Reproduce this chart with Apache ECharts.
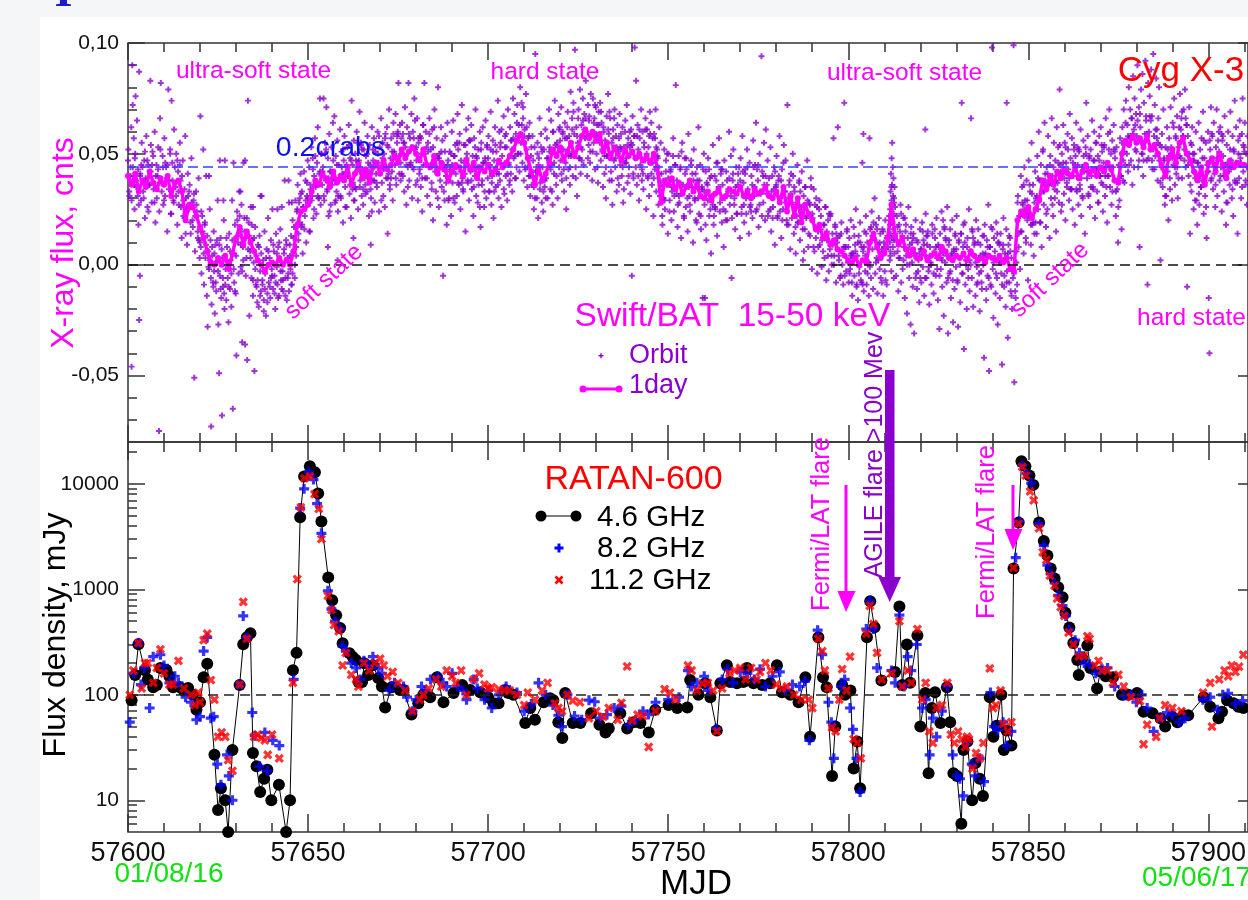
<!DOCTYPE html>
<html><head><meta charset="utf-8">
<script src="https://cdn.jsdelivr.net/npm/echarts@6/dist/echarts.min.js"></script>
<style>
html,body{margin:0;padding:0;background:#f5f6f8;overflow:hidden;}
#panel{position:absolute;left:40px;top:17px;width:1208px;height:883px;background:#fff;}
#chart{position:absolute;left:0;top:0;width:1248px;height:900px;}
</style></head><body>
<div id="panel"></div><div id="chart"></div>
<script>
// ---------- DATA ----------
const MJD0 = 57600;
const xMajor = [57600,57650,57700,57750,57800,57850,57900];
const xMinor = [57610,57620,57630,57640,57660,57670,57680,57690,57710,57720,57730,57740,57760,57770,57780,57790,57810,57820,57830,57840,57860,57870,57880,57890,57910];
const yTopMajor = [-0.05,0,0.05,0.10];
const yTopMinor = [-0.07,-0.06,-0.04,-0.03,-0.02,-0.01,0.01,0.02,0.03,0.04,0.06,0.07,0.08,0.09];
const yBotMajor = [10,100,1000,10000];
const yBotMinor = [6,7,8,9,20,30,40,50,60,70,80,90,200,300,400,500,600,700,800,900,2000,3000,4000,5000,6000,7000,8000,9000,20000];
const crabLevel = 0.0443;   // 0.2 crabs, cnts
const radioRef = 100;       // mJy

// Swift/BAT 1-day average, milli-cnts, one value per day from MJD 57600
const dayFlux = [
40,36,41,33,38,35,42,37,34,39, 36,40,31,37,38,33,20,27,26,22,
17,12,6,1,0,3,0,4,-2,5, 12,17,9,15,10,6,2,0,-3,0,
1,0,3,0,2,0,6,18,24,25, 27,33,38,36,41,39,35,42,37,40,
38,44,36,41,45,39,43,37,44,46, 41,47,43,45,49,46,52,48,51,53,
50,47,52,45,44,49,41,46,43,38, 42,45,44,40,47,43,46,39,44,42,
45,41,43,47,44,46,49,52,56,59, 55,48,42,36,44,38,41,46,52,49,
53,47,51,55,49,53,58,61,57,60, 56,59,51,55,48,53,50,47,52,49,
51,48,50,47,49,46,50,44,28,38, 36,39,34,37,32,35,38,33,36,31,
30,33,29,32,34,30,31,34,33,32, 35,31,33,30,34,32,33,35,31,30,
33,28,35,24,31,22,30,19,27,23, 20,16,18,12,14,9,11,7,6,4,
2,1,3,0,2,1,10,14,8,3, 5,12,27,13,9,12,7,4,7,3,
3,6,2,4,5,3,8,6,3,2, 4,3,5,2,6,4,2,3,1,4,
3,2,4,1,3,-2,-3,20,24,22, 26,21,25,29,38,34,40,36,42,39,
43,41,40,44,39,42,45,41,43,40, 44,42,46,43,38,37,50,56,54,58,
55,57,53,58,52,54,50,45,40,48, 52,46,55,57,50,47,42,38,44,36,
46,48,42,50,45,39,47,44,46,45, 45];

// Swift/BAT orbit points, wide scatter: pairs (day offset from MJD 57600, milli-cnts)
const orbitPairs = [
0.1,52,0.4,31,0.7,44,0.9,62,1.0,-46,1.2,90,1.3,72,1.5,38,1.6,57,1.8,25,1.9,48,
2.1,76,2.3,35,2.5,65,2.8,43,2.9,18,3.1,87,3.1,-25,3.3,-5,3.4,41,3.6,29,3.8,55,
4.2,33,4.5,47,4.7,21,4.9,39,5.1,58,5.4,26,5.6,45,5.9,36,6.2,83,6.3,42,6.6,28,6.8,51,
7.1,34,7.4,60,7.6,19,7.9,45,8.2,40,8.4,53,8.6,-75,8.7,24,8.9,66,9.1,82,9.3,37,9.6,49,9.8,27,
10.1,57,10.3,31,10.6,44,10.9,15,11.2,79,11.4,38,11.7,52,11.9,23,12.1,74,12.3,46,12.6,29,12.8,61,
13.2,35,13.4,50,13.7,18,13.9,42,14.1,27,14.4,55,14.6,38,14.9,12,15.2,47,15.4,22,15.7,34,15.9,58,
16.1,30,16.4,9,16.6,41,16.9,25,17.1,36,17.4,14,17.6,48,17.9,20,18.2,29,18.4,-51,18.6,6,18.9,33,
19.1,24,19.4,12,19.6,39,19.9,3,
20.1,67,20.2,8,20.4,-4,20.6,22,20.8,14,20.9,52,21.1,-9,21.3,18,21.5,3,21.7,40,21.9,-14,
22.1,-28,22.3,6,22.5,-2,22.5,40,22.7,25,22.9,11,23.1,-73,23.2,-18,23.4,4,23.6,-8,23.8,15,23.9,-3,
24.1,-22,24.3,9,24.5,-12,24.7,1,24.9,29,25.1,-27,25.3,-49,25.5,-5,25.5,47,25.7,12,25.9,-15,
26.1,-68,26.2,3,26.4,-10,26.5,29,26.6,20,26.8,-20,26.9,47,27.1,-2,27.3,-16,27.5,8,27.7,-6,27.9,-26,
28.1,14,28.3,-11,28.5,2,28.7,-19,28.9,29,29.1,-65,29.3,5,29.3,46,29.5,-8,29.7,18,29.9,-13,
30.1,-41,30.3,24,30.5,10,30.7,-4,30.9,33,31.1,16,31.2,33,31.3,-1,31.5,27,31.7,-35,31.9,8,
32.1,46,32.3,21,32.5,-36,32.5,47,32.7,12,32.9,3,33.1,-43,33.3,74,33.5,19,33.7,-23,33.9,6,
34.1,26,34.3,-6,34.5,11,34.7,-14,34.7,26,34.9,1,35.1,-48,35.3,17,35.5,-9,35.7,4,35.9,-17,
36.1,9,36.3,-19,36.5,13,36.7,-3,36.8,31,36.9,-12,37.1,31,37.3,-7,37.5,2,37.7,-21,37.9,15,
38.1,-4,38.3,-23,38.5,7,38.7,-13,38.9,21,39.1,-8,39.3,3,39.5,-15,39.7,11,39.9,-2,
40.1,25,40.3,-11,40.5,6,40.7,-5,40.9,-20,41.1,14,41.3,-1,41.5,-9,41.5,25,41.7,8,41.9,-14,
42.1,2,42.3,16,42.5,-7,42.7,26,42.9,-3,43.1,-12,43.3,5,43.5,38,43.7,-6,43.9,11,
44.1,-16,44.3,3,44.5,-4,44.6,38,44.7,28,44.9,9,45.1,-2,45.3,13,45.5,-9,45.5,28,45.7,20,45.9,6,
46.1,17,46.3,-6,46.5,29,46.7,4,46.9,24,47.1,36,47.3,11,47.5,28,47.7,19,47.9,41,
48.1,17,48.3,33,48.5,5,48.7,26,48.9,42,49.1,22,49.3,38,49.5,10,49.7,31,49.9,47,
50.1,28,50.3,44,50.5,15,50.7,36,50.9,53,51.1,31,51.3,48,51.5,21,51.7,40,51.9,57,
52.1,35,52.3,23,52.5,46,52.7,62,52.9,30,53.1,41,53.3,75,53.5,27,53.7,50,53.9,36,
54.1,44,54.3,75,54.5,29,54.7,55,54.9,38,55.1,71,55.3,33,55.5,48,55.5,8,55.7,22,55.9,59,
56.1,42,56.3,27,56.5,53,56.7,36,56.9,64,57.1,39,57.3,67,57.5,28,57.7,49,57.9,33,
58.1,56,58.2,2,58.3,24,58.5,45,58.7,38,58.9,61,59.1,30,59.3,51,59.5,41,59.7,19,59.9,47,
60.1,58,60.3,35,60.5,44,60.7,26,60.9,53,61.1,40,61.3,63,61.5,32,61.7,48,61.9,21,
62.1,74,62.3,45,62.5,37,62.6,12,62.7,56,62.9,29,63.1,50,63.3,34,63.5,60,63.7,42,63.9,25,
64.1,47,64.3,69,64.5,38,64.7,55,64.9,31,65.1,43,65.3,27,65.5,52,65.7,64,65.9,36,
66.1,49,66.3,33,66.5,58,66.7,40,66.9,22,67.1,54,67.3,45,67.4,9,67.5,30,67.7,62,67.9,38,
68.1,47,68.3,57,68.5,28,68.7,51,68.9,41,69.1,35,69.3,60,69.5,46,69.7,24,69.9,53,
70.1,43,70.3,66,70.5,37,70.7,55,70.9,31,71.1,50,71.3,26,71.5,59,71.7,44,71.9,62,
72.1,39,72.1,14,72.3,53,72.5,70,72.7,34,72.9,48,73.1,57,73.3,42,73.5,29,73.7,64,73.9,51,
74.1,45,74.3,68,74.5,36,74.7,55,74.9,60,75.1,82,75.3,49,75.5,63,75.7,38,75.9,57,
76.1,64,76.3,40,76.5,55,76.7,33,76.9,71,77.1,49,77.3,27,77.5,62,77.7,44,77.9,82,
78.1,38,78.3,57,78.5,46,78.7,68,78.9,30,79.1,60,79.3,43,79.5,75,79.7,52,79.9,36,
80.1,47,80.3,66,80.5,29,80.7,55,80.9,41,81.1,58,81.3,35,81.5,50,81.7,24,81.9,63,
82.1,45,82.3,82,82.5,39,82.7,60,82.9,53,83.1,31,83.3,55,83.5,44,83.7,66,83.9,27,
84.1,52,84.3,37,84.5,61,84.7,20,84.9,46,85.1,70,85.3,42,85.5,33,85.7,57,85.9,48,
86.1,80,86.3,26,86.5,50,86.7,38,86.9,62,87.1,35,87.3,56,87.5,-5,87.7,45,87.9,29,
88.1,58,88.3,40,88.5,18,88.7,64,88.9,47,89.1,30,89.3,51,89.5,43,89.7,22,89.9,60,
90.1,37,90.3,65,90.5,49,90.7,28,90.9,54,91.1,44,91.3,31,91.5,68,91.7,52,91.9,36,
92.1,59,92.3,25,92.5,47,92.7,72,92.9,39,93.1,33,93.3,54,93.5,41,93.7,15,93.9,61,
94.1,50,94.3,38,94.5,66,94.7,29,94.9,56,95.1,42,95.3,63,95.5,34,95.7,49,95.9,22,
96.1,57,96.3,40,96.5,70,96.7,31,96.9,48,97.1,28,97.3,52,97.5,44,97.7,60,97.9,17,
98.1,55,98.3,36,98.5,62,98.7,46,98.9,26,99.1,48,99.3,65,99.5,30,99.7,53,99.9,39,
100.1,58,100.3,33,100.5,45,100.7,69,100.9,27,101.1,40,101.3,56,101.5,21,101.7,47,101.9,62,
102.1,35,102.3,51,102.5,43,102.7,74,102.9,30,103.1,60,103.3,38,103.5,55,103.7,26,103.9,49,
104.1,44,104.3,67,104.5,32,104.7,58,104.9,40,105.1,53,105.3,29,105.5,70,105.7,45,105.9,36,
106.1,62,106.3,41,106.5,56,106.7,33,106.9,75,107.1,48,107.3,68,107.5,39,107.7,59,107.9,44,
108.1,72,108.3,50,108.5,63,108.7,42,108.9,80,109.1,55,109.3,73,109.5,46,109.7,66,109.9,38,
110.1,61,110.3,44,110.5,77,110.7,52,110.9,35,111.1,57,111.3,40,111.5,64,111.7,31,111.9,49,
112.1,36,112.3,58,112.5,47,112.7,25,112.9,53,113.1,95,113.3,42,113.5,30,113.7,55,113.9,21,
114.1,48,114.3,66,114.5,37,114.7,59,114.9,28,115.1,44,115.3,24,115.5,52,115.7,35,115.9,61,
116.1,39,116.3,57,116.5,30,116.7,48,116.9,70,117.1,53,117.3,34,117.5,65,117.7,45,117.9,27,
118.1,60,118.3,41,118.5,74,118.7,50,118.9,36,119.1,55,119.3,30,119.5,68,119.7,44,119.9,62,
120.1,47,120.3,71,120.5,38,120.7,59,120.9,52,121.1,33,121.3,64,121.5,46,121.7,25,121.9,57,
122.1,69,122.3,43,122.5,58,122.7,36,122.9,78,123.1,50,123.3,66,123.5,40,123.7,73,123.9,59,
124.1,97,124.3,44,124.5,62,124.7,31,124.9,55,125.1,70,125.3,48,125.5,79,125.7,41,125.9,63,
126.1,52,126.3,75,126.5,45,126.7,68,126.9,57,127.1,83,127.3,60,127.5,40,127.7,72,127.9,54,
128.1,67,128.3,46,128.5,77,128.7,58,128.9,38,129.1,75,129.3,55,129.5,66,129.7,43,129.9,71,
130.1,50,130.3,63,130.5,37,130.7,69,130.9,58,131.1,73,131.3,47,131.5,64,131.7,52,131.9,35,
132.1,60,132.3,41,132.5,56,132.7,30,132.9,67,133.1,49,133.3,77,133.5,59,133.7,38,133.9,66,
134.1,42,134.3,55,134.5,27,134.7,61,134.9,47,135.1,70,135.3,44,135.5,58,135.7,33,135.9,63,
136.1,51,136.3,36,136.5,68,136.7,45,136.9,59,137.1,40,137.3,62,137.5,28,137.7,53,137.9,46,
138.1,65,138.3,48,138.5,72,138.7,37,138.9,57,139.1,44,139.3,60,139.5,32,139.7,55,139.9,-5,
140.1,67,140.3,41,140.5,58,140.7,98,140.9,48,141.1,83,141.3,36,141.5,63,141.7,52,141.9,29,
142.1,57,142.3,45,142.5,70,142.7,38,142.9,60,143.1,34,143.3,55,143.5,47,143.7,66,143.9,25,
144.1,61,144.3,40,144.5,53,144.7,31,144.9,69,145.1,46,145.3,64,145.5,36,145.7,57,145.9,22,
146.1,59,146.3,43,146.5,70,146.7,33,146.9,52,147.1,48,147.3,27,147.5,62,147.7,38,147.9,55,
148.1,41,148.4,18,148.6,30,148.9,52,149.1,25,149.4,47,149.6,36,149.9,14,
150.1,50,150.4,29,150.6,42,150.9,20,151.1,33,151.4,57,151.6,24,151.9,45,
152.1,81,152.4,38,152.6,17,152.9,49,153.1,28,153.4,44,153.6,12,153.9,55,
154.1,36,154.4,21,154.6,48,154.9,26,155.1,43,155.4,15,155.6,59,155.9,31,
156.1,24,156.4,47,156.6,35,156.9,10,157.1,52,157.4,29,157.6,41,157.9,19,
158.1,38,158.4,62,158.6,23,158.9,45,159.1,16,159.4,34,159.6,-15,159.9,50,
160.1,27,160.2,-15,160.4,42,160.6,11,160.9,36,161.1,48,161.4,22,161.6,39,161.9,5,
162.1,31,162.4,54,162.6,18,162.9,40,163.1,25,163.4,46,163.6,13,163.9,33,
164.1,57,164.4,28,164.6,41,164.9,19,165.1,36,165.4,8,165.6,47,165.9,24,
166.1,42,166.4,20,166.6,33,166.9,60,167.1,27,167.4,49,167.6,-6,167.9,38,
168.1,52,168.4,30,168.6,16,168.9,44,169.1,23,169.4,41,169.6,35,169.9,12,
170.1,48,170.4,26,170.6,58,170.9,37,171.1,19,171.4,43,171.6,30,171.9,52,
172.1,34,172.4,14,172.6,46,172.9,27,173.1,40,173.4,21,173.6,56,173.9,31,
174.1,45,174.4,64,174.6,25,174.9,38,175.1,17,175.4,50,175.6,33,175.9,94,
176.1,42,176.4,28,176.6,55,176.9,20,177.1,61,177.4,36,177.6,47,177.9,24,
178.1,31,178.4,53,178.6,15,178.9,40,179.1,26,179.4,44,179.6,9,179.9,35,
180.1,49,180.4,22,180.6,38,180.9,58,181.1,30,181.4,12,181.6,43,181.9,25,
182.1,54,182.4,33,182.6,47,182.9,20,183.1,72,183.4,18,183.6,36,183.9,7,
184.1,41,184.4,27,184.6,50,184.9,14,185.1,33,185.4,5,185.6,28,185.9,45,
186.1,19,186.4,38,186.6,11,186.9,26,187.1,42,187.4,2,187.6,31,187.9,16,
188.1,35,188.4,22,188.6,47,188.9,8,189.1,28,189.4,13,189.6,39,189.9,-2,
190.1,21,190.4,34,190.6,6,190.9,17,191.1,30,191.4,-4,191.6,15,191.9,25,
192.1,9,192.4,22,192.6,-1,192.9,12,193.1,18,193.4,3,193.6,26,193.9,-7,
194.1,11,194.4,20,194.6,-3,194.9,7,195.1,23,195.4,0,195.6,14,195.9,57,
196.1,4,196.4,17,196.6,-8,196.9,10,197.1,62,197.4,2,197.6,13,197.9,-5,
198.1,19,198.4,6,198.6,-9,198.9,73,199.1,8,199.4,-3,199.6,15,199.9,1,
200.1,-8,200.3,12,200.5,-2,200.7,20,200.9,5,201.1,-14,201.3,3,201.5,17,201.7,-5,201.9,9,
202.1,25,202.3,-10,202.5,4,202.7,-16,202.9,13,203.1,-1,203.3,19,203.5,-7,203.7,8,203.9,46,
204.1,6,204.2,59,204.3,-12,204.5,15,204.7,-3,204.9,22,205.1,-9,205.3,10,205.5,1,205.7,-14,205.9,57,
206.1,16,206.3,-6,206.5,24,206.7,7,206.9,-11,207.1,12,207.3,30,207.5,-4,207.7,18,207.9,3,
208.1,-13,208.3,9,208.5,21,208.7,-2,208.9,14,209.1,5,209.3,-8,209.5,16,209.7,-14,209.9,10,
210.1,-3,210.3,20,210.5,7,210.7,-9,210.9,13,
211.5,2,211.55,10,211.6,18,211.65,25,211.7,6,211.75,33,211.8,14,211.85,41,211.9,22,211.95,-3,
212.0,29,212.05,48,212.1,12,212.15,36,212.2,55,212.25,19,212.3,27,212.35,44,212.4,8,212.45,31,
212.5,16,212.55,39,212.6,23,212.65,-6,212.7,11,212.75,28,212.8,5,212.85,35,
213.1,14,213.3,-5,213.5,22,213.7,6,213.9,-12,214.1,18,214.3,3,214.5,27,214.7,-8,214.9,11,
215.1,-2,215.3,21,215.5,8,215.7,-15,215.9,15,216.1,4,216.3,-22,216.5,12,216.7,26,216.9,-6,
217.1,9,217.3,-27,217.5,17,217.7,1,217.9,-10,218.1,14,218.3,-31,218.5,5,218.7,20,218.9,-4,
219.1,-11,219.3,10,219.5,2,219.7,-17,219.9,16,220.1,7,220.3,-8,220.5,19,220.7,-1,220.9,11,
221.1,-14,221.3,4,221.4,61,221.5,23,221.7,-6,221.9,9,222.1,15,222.3,-3,222.5,-18,222.7,8,222.9,1,
223.1,-9,223.3,18,223.7,-13,223.9,6,224.1,12,224.3,-5,224.5,21,224.7,3,224.9,-16,
225.1,8,225.3,-29,225.5,14,225.7,-2,225.9,24,226.1,-10,226.3,5,226.5,-23,226.7,17,226.9,1,
227.1,11,227.3,-8,227.5,26,227.7,-31,227.9,9,228.1,-4,228.3,16,228.5,-15,228.7,4,228.9,20,
229.1,-26,229.3,7,229.5,-11,229.7,13,229.9,-1,230.1,22,230.3,-7,230.5,-28,230.7,10,230.9,3,
231.1,-17,231.3,14,231.5,73,231.7,-4,231.9,8,232.1,-38,232.3,19,232.5,-9,232.7,2,232.9,-20,
233.1,12,233.3,-2,233.5,25,233.7,-12,233.9,6,234.1,66,234.3,-6,234.5,15,234.7,-19,234.9,4,
235.1,10,235.3,-14,235.5,20,235.7,-1,235.9,-8,236.1,16,236.3,3,236.5,-21,236.7,9,236.9,-3,
237.1,-11,237.3,13,237.5,0,237.7,-42,237.9,18,238.1,5,238.3,-16,238.5,11,238.7,-5,238.9,27,
239.1,-48,239.3,8,239.5,-9,239.7,17,239.9,98,240.1,-2,240.3,-24,240.5,12,240.7,3,240.9,-13,
241.1,19,241.3,-6,241.5,-27,241.7,10,241.9,1,242.1,-15,242.3,14,242.5,-4,242.7,-45,242.9,7,
243.1,21,243.3,-10,243.5,5,243.7,-19,243.9,16,244.0,73,244.1,-3,244.3,-33,244.5,9,244.7,-8,244.9,12,
245.1,-12,245.3,3,245.5,-20,245.7,-6,245.9,99,246.1,-53,246.3,6,246.5,-15,246.7,1,246.9,-9,
247.1,31,247.3,8,247.5,22,247.7,-2,247.9,40,248.1,15,248.3,35,248.5,27,248.7,5,248.9,44,
249.1,29,249.3,12,249.5,38,249.7,20,249.9,-7,250.1,47,250.3,23,250.5,33,250.7,9,250.9,55,
251.1,18,251.3,36,251.5,4,251.7,28,251.9,42,252.1,30,252.3,14,252.5,49,252.7,25,252.9,60,
253.1,38,253.3,19,253.5,45,253.7,8,253.9,33,254.1,52,254.3,27,254.5,64,254.7,41,254.9,17,
255.1,44,255.3,25,255.5,58,255.7,36,255.9,12,256.1,49,256.3,30,256.5,66,256.7,40,256.9,22,
257.1,55,257.3,34,257.5,47,257.7,15,257.9,62,258.1,37,258.3,53,258.5,28,258.7,79,258.9,45,
259.1,24,259.3,50,259.5,41,259.7,63,259.9,32,260.1,55,260.3,20,260.5,46,260.7,37,260.9,59,
261.1,43,261.3,29,261.5,68,261.7,48,261.9,34,262.1,57,262.3,25,262.5,40,262.7,52,262.9,18,
263.1,49,263.3,64,263.5,33,263.7,45,263.9,27,264.1,51,264.3,36,264.5,61,264.7,22,264.9,44,
265.1,30,265.3,56,265.5,42,265.7,14,265.9,53,266.1,73,266.3,39,266.5,58,266.7,31,266.9,48,
267.1,26,267.3,52,267.5,40,267.7,65,267.9,35,268.1,47,268.3,60,268.5,21,268.7,43,268.9,55,
269.1,33,269.3,49,269.5,28,269.7,58,269.9,40,270.1,62,270.3,37,270.5,51,270.7,24,270.9,46,
271.1,54,271.3,31,271.5,66,271.7,44,271.9,19,272.1,59,272.3,40,272.5,70,272.7,35,272.9,50,
273.1,27,273.3,56,273.5,44,273.7,63,273.9,38,274.1,48,274.3,22,274.5,53,274.7,34,274.9,10,
275.1,45,275.3,29,275.5,57,275.7,40,275.9,16,276.1,62,276.3,38,276.5,70,276.7,51,276.9,45,
277.1,74,277.3,55,277.5,63,277.7,42,277.9,80,278.1,57,278.3,70,278.5,47,278.7,66,278.9,36,
279.1,85,279.3,61,279.5,75,279.7,52,279.9,68,280.1,58,280.3,90,280.5,44,280.7,71,280.9,8,
281.1,62,281.3,79,281.5,50,281.7,86,281.9,40,282.1,73,282.3,56,282.5,92,282.7,65,282.9,47,
283.1,-9,283.3,82,283.5,60,283.7,76,283.9,52,284.1,88,284.3,67,284.5,43,284.7,95,284.9,58,
285.1,72,285.3,49,285.5,84,285.7,61,285.9,38,286.1,66,286.3,80,286.5,54,286.7,2,286.9,44,
287.1,59,287.3,35,287.5,70,287.7,48,287.9,27,288.1,53,288.3,31,288.5,62,288.7,42,288.9,20,
289.1,57,289.3,39,289.5,71,289.7,50,289.9,29,290.1,64,290.3,45,290.5,75,290.7,36,290.9,58,
291.1,41,291.3,67,291.5,30,291.7,53,291.9,62,292.1,77,292.3,48,292.5,66,292.7,39,292.9,58,
293.1,70,293.3,52,293.5,79,293.7,44,293.9,63,294.1,-10,294.3,58,294.5,40,294.7,71,294.9,14,
295.1,55,295.3,33,295.5,62,295.7,47,295.9,25,296.1,50,296.3,29,296.5,60,296.7,41,296.9,18,
297.1,46,297.3,64,297.5,27,297.7,52,297.9,35,298.1,57,298.3,38,298.5,69,298.7,23,298.9,48,
299.1,31,299.3,55,299.5,12,299.7,42,299.9,60,300.1,-15,300.3,-40,300.5,52,300.7,71,300.9,39,
301.1,58,301.3,34,301.5,64,301.7,45,301.9,26,302.1,53,302.3,70,302.5,31,302.7,47,302.9,60,
303.1,38,303.3,62,303.5,44,303.7,24,303.9,56,304.1,49,304.3,33,304.5,67,304.7,41,304.9,18,
305.1,54,305.3,28,305.5,60,305.7,43,305.9,36,306.1,69,306.3,47,306.5,30,306.7,58,306.9,22,
307.1,51,307.3,74,307.5,37,307.7,62,307.9,45,308.1,14,308.3,56,308.5,39,308.7,65,308.9,48,
309.1,30,309.3,59,309.5,75,309.7,42,309.9,53,310.1,64,310.3,36,310.5,50,310.7,27,310.9,58];

// Swift/BAT orbit points, dense core near the daily level: pairs (day offset, milli-cnts)
const orbitCore = [
0.0,47,0.35,33,0.7,40,1.0,29,1.35,44,1.7,36,2.0,50,2.35,38,2.7,31,3.0,27,3.35,40,3.7,45,
4.0,44,4.35,30,4.7,51,5.0,38,5.35,47,5.7,24,6.0,36,6.35,54,6.7,45,7.0,49,7.35,28,7.7,40,
8.0,30,8.35,43,8.7,37,9.0,52,9.35,33,9.7,44,10.0,29,10.35,46,10.7,39,11.0,45,11.35,34,11.7,50,
12.0,23,12.35,38,12.7,28,13.0,44,13.35,31,13.7,47,14.0,33,14.35,45,14.7,26,15.0,40,15.35,29,15.7,21,
16.0,14,16.35,26,16.7,31,17.0,33,17.35,19,17.7,28,18.0,17,18.35,32,18.7,22,19.0,27,19.35,15,19.7,11,
20.0,10,20.35,24,20.7,15,21.0,5,21.35,19,21.7,9,22.0,13,22.35,-1,22.7,2,23.0,-6,23.35,8,23.7,-10,
24.0,5,24.35,-8,24.7,11,25.0,-3,25.35,9,25.7,-11,26.0,7,26.35,-6,26.7,-13,27.0,-9,27.35,12,27.7,1,
28.0,-10,28.35,6,28.7,-4,29.0,11,29.35,-2,29.7,-12,30.0,4,30.35,20,30.7,13,31.0,22,31.35,9,31.7,-3,
32.0,2,32.35,15,32.7,-5,33.0,21,33.35,7,33.7,13,34.0,3,34.35,18,34.7,-7,35.0,12,35.35,-2,35.7,-10,
36.0,-7,36.35,8,36.7,-14,37.0,5,37.35,-9,37.7,-16,38.0,-11,38.35,3,38.7,-17,39.0,6,39.35,-10,39.7,-6,
40.0,-5,40.35,9,40.7,-13,41.0,-8,41.35,5,41.7,-15,42.0,10,42.35,-3,42.7,-11,43.0,-7,43.35,7,43.7,-14,
44.0,9,44.35,-6,44.7,-12,45.0,4,45.35,-9,45.7,-4,46.0,12,46.35,0,46.7,8,47.0,25,47.35,14,47.7,30,
48.0,32,48.35,18,48.7,26,49.0,16,49.35,29,49.7,37,50.0,30,50.35,15,50.7,34,51.0,29,51.35,43,51.7,25,
52.0,49,52.35,36,52.7,31,53.0,30,53.35,42,53.7,50,54.0,42,54.35,31,54.7,50,55.0,52,55.35,34,55.7,39,
56.0,24,56.35,42,56.7,38,57.0,47,57.35,39,57.7,29,58.0,45,58.35,31,58.7,39,59.0,31,59.35,44,59.7,52,
60.0,41,60.35,26,60.7,45,61.0,40,61.35,54,61.7,36,62.0,47,62.35,34,62.7,29,63.0,35,63.35,47,63.7,55,
64.0,46,64.35,35,64.7,54,65.0,52,65.35,34,65.7,39,66.0,32,66.35,50,66.7,46,67.0,42,67.35,34,67.7,24,
68.0,52,68.35,38,68.7,46,69.0,37,69.35,50,69.7,58,70.0,44,70.35,29,70.7,48,71.0,43,71.35,57,71.7,39,
72.0,54,72.35,41,72.7,36,73.0,39,73.35,51,73.7,59,74.0,50,74.35,39,74.7,58,75.0,59,75.35,41,75.7,46,
76.0,41,76.35,59,76.7,55,77.0,53,77.35,45,77.7,35,78.0,59,78.35,45,78.7,53,79.0,44,79.35,57,79.7,65,
80.0,53,80.35,38,80.7,57,81.0,43,81.35,57,81.7,39,82.0,63,82.35,50,82.7,45,83.0,39,83.35,51,83.7,59,
84.0,45,84.35,34,84.7,53,85.0,62,85.35,44,85.7,49,86.0,30,86.35,48,86.7,44,87.0,51,87.35,43,87.7,33,
88.0,51,88.35,37,88.7,45,89.0,29,89.35,42,89.7,50,90.0,45,90.35,30,90.7,49,91.0,41,91.35,55,91.7,37,
92.0,55,92.35,42,92.7,37,93.0,34,93.35,46,93.7,54,94.0,48,94.35,37,94.7,56,95.0,56,95.35,38,95.7,43,
96.0,35,96.35,53,96.7,49,97.0,44,97.35,36,97.7,26,98.0,52,98.35,38,98.7,46,99.0,33,99.35,46,99.7,54,
100.0,48,100.35,33,100.7,52,101.0,37,101.35,51,101.7,33,102.0,54,102.35,41,102.7,36,103.0,41,103.35,53,103.7,61,
104.0,45,104.35,34,104.7,53,105.0,59,105.35,41,105.7,46,106.0,38,106.35,56,106.7,52,107.0,57,107.35,49,107.7,39,
108.0,64,108.35,50,108.7,58,109.0,50,109.35,63,109.7,71,110.0,58,110.35,43,110.7,62,111.0,44,111.35,58,111.7,40,
112.0,53,112.35,40,112.7,35,113.0,30,113.35,42,113.7,50,114.0,45,114.35,34,114.7,53,115.0,51,115.35,33,115.7,38,
116.0,30,116.35,48,116.7,44,117.0,51,117.35,43,117.7,33,118.0,60,118.35,46,118.7,54,119.0,40,119.35,53,119.7,61,
120.0,56,120.35,41,120.7,60,121.0,43,121.35,57,121.7,39,122.0,62,122.35,49,122.7,44,123.0,49,123.35,61,123.7,69,
124.0,50,124.35,39,124.7,58,125.0,66,125.35,48,125.7,53,126.0,47,126.35,65,126.7,61,127.0,66,127.35,58,127.7,48,
128.0,65,128.35,51,128.7,59,129.0,51,129.35,64,129.7,72,130.0,59,130.35,44,130.7,63,131.0,55,131.35,69,131.7,51,
132.0,62,132.35,49,132.7,44,133.0,49,133.35,61,133.7,69,134.0,49,134.35,38,134.7,57,135.0,66,135.35,48,135.7,53,
136.0,39,136.35,57,136.7,53,137.0,52,137.35,44,137.7,34,138.0,60,138.35,46,138.7,54,139.0,40,139.35,53,139.7,61,
140.0,54,140.35,39,140.7,58,141.0,44,141.35,58,141.7,40,142.0,61,142.35,48,142.7,43,143.0,41,143.35,53,143.7,61,
144.0,50,144.35,39,144.7,58,145.0,59,145.35,41,145.7,46,146.0,39,146.35,57,146.7,53,147.0,49,147.35,41,147.7,31,
148.0,36,148.35,22,148.7,30,149.0,29,149.35,42,149.7,50,150.0,39,150.35,24,150.7,43,151.0,35,151.35,49,151.7,31,
152.0,45,152.35,32,152.7,27,153.0,31,153.35,43,153.7,51,154.0,33,154.35,22,154.7,41,155.0,48,155.35,30,155.7,35,
156.0,27,156.35,45,156.7,41,157.0,38,157.35,30,157.7,20,158.0,44,158.35,30,158.7,38,159.0,22,159.35,35,159.7,43,
160.0,33,160.35,18,160.7,37,161.0,29,161.35,43,161.7,25,162.0,40,162.35,27,162.7,22,163.0,26,163.35,38,163.7,46,
164.0,35,164.35,24,164.7,43,165.0,43,165.35,25,165.7,30,166.0,20,166.35,38,166.7,34,167.0,39,167.35,31,167.7,21,
168.0,41,168.35,27,168.7,35,169.0,23,169.35,36,169.7,44,170.0,38,170.35,23,170.7,42,171.0,27,171.35,41,171.7,23,
172.0,44,172.35,31,172.7,26,173.0,24,173.35,36,173.7,44,174.0,35,174.35,24,174.7,43,175.0,45,175.35,27,175.7,32,
176.0,22,176.35,40,176.7,36,177.0,40,177.35,32,177.7,22,178.0,39,178.35,25,178.7,33,179.0,21,179.35,34,179.7,42,
180.0,36,180.35,21,180.7,40,181.0,24,181.35,38,181.7,20,182.0,46,182.35,33,182.7,28,183.0,18,183.35,30,183.7,38,
184.0,32,184.35,21,184.7,40,185.0,35,185.35,17,185.7,22,186.0,19,186.35,37,186.7,33,187.0,24,187.35,16,187.7,6,
188.0,35,188.35,21,188.7,29,189.0,14,189.35,27,189.7,35,190.0,23,190.35,8,190.7,27,191.0,12,191.35,26,191.7,8,
192.0,29,192.35,16,192.7,11,193.0,6,193.35,18,193.7,26,194.0,15,194.35,4,194.7,23,195.0,22,195.35,4,195.7,9,
196.0,0,196.35,18,196.7,14,197.0,12,197.35,4,197.7,-6,198.0,14,198.35,0,198.7,8,199.0,-5,199.35,8,199.7,16,
200.0,8,200.35,-4,200.7,4,201.0,-8,201.35,5,201.7,13,202.0,6,202.35,-9,202.7,10,203.0,-4,203.35,10,203.7,-8,
204.0,-9,204.35,8,204.7,4,205.0,14,205.35,-4,205.7,1,206.0,-1,206.35,17,206.7,13,207.0,19,207.35,11,207.7,1,
208.0,16,208.35,2,208.7,10,209.0,-6,209.35,7,209.7,15,210.0,8,210.35,-7,210.7,12,211.0,8,211.35,22,211.7,4,
212.0,35,212.35,22,212.7,30,213.0,26,213.35,11,213.7,17,214.0,3,214.35,15,214.7,23,215.0,13,215.35,2,215.7,21,
216.0,18,216.35,0,216.7,7,217.0,0,217.35,14,217.7,10,218.0,12,218.35,4,218.7,-6,219.0,11,219.35,-3,219.7,5,
220.0,-6,220.35,7,220.7,15,221.0,9,221.35,-6,221.7,13,222.0,13,222.35,-1,222.7,4,223.0,0,223.35,14,223.7,-4,
224.0,16,224.35,8,224.7,-2,225.0,9,225.35,-5,225.7,3,226.0,2,226.35,20,226.7,16,227.0,12,227.35,4,227.7,-6,
228.0,11,228.35,-3,228.7,5,229.0,-7,229.35,6,229.7,14,230.0,7,230.35,-8,230.7,11,231.0,0,231.35,14,231.7,-4,
232.0,18,232.35,10,232.7,0,233.0,8,233.35,-6,233.7,2,234.0,0,234.35,16,234.7,12,235.0,9,235.35,1,235.7,-9,
236.0,10,236.35,-4,236.7,4,237.0,-8,237.35,5,237.7,13,238.0,4,238.35,-11,238.7,8,239.0,-6,239.35,8,239.7,-10,
240.0,16,240.35,1,240.7,6,241.0,-4,241.35,14,241.7,10,242.0,9,242.35,1,242.7,-9,243.0,9,243.35,-5,243.7,3,
244.0,-8,244.35,5,244.7,13,245.0,6,245.35,-14,245.7,-2,246.0,-4,246.35,-12,246.7,6,
247.0,28,247.35,14,247.7,22,248.0,15,248.35,28,248.7,36,249.0,25,249.35,10,249.7,29,250.0,22,250.35,36,250.7,18,
251.0,32,251.35,19,251.7,14,252.0,19,252.35,31,252.7,39,253.0,30,253.35,19,253.7,38,254.0,51,254.35,33,254.7,38,
255.0,23,255.35,41,255.7,37,256.0,45,256.35,37,256.7,27,257.0,44,257.35,30,257.7,38,258.0,33,258.35,46,258.7,54,
259.0,42,259.35,27,259.7,46,260.0,39,260.35,53,260.7,35,261.0,52,261.35,39,261.7,34,262.0,34,262.35,46,262.7,54,
263.0,45,263.35,34,263.7,53,264.0,52,264.35,34,264.7,39,265.0,31,265.35,49,265.7,45,266.0,50,266.35,42,266.7,32,
267.0,49,267.35,35,267.7,43,268.0,34,268.35,47,268.7,55,269.0,43,269.35,28,269.7,47,270.0,40,270.35,54,270.7,36,
271.0,53,271.35,40,271.7,35,272.0,40,272.35,52,272.7,60,273.0,44,273.35,33,273.7,52,274.0,51,274.35,33,274.7,38,
275.0,26,275.35,44,275.7,40,276.0,55,276.35,47,276.7,37,277.0,64,277.35,50,277.7,58,278.0,45,278.35,58,278.7,66,
279.0,59,279.35,44,279.7,63,280.0,51,280.35,65,280.7,47,281.0,68,281.35,55,281.7,50,282.0,47,282.35,59,282.7,67,
283.0,59,283.35,48,283.7,67,284.0,65,284.35,47,284.7,52,285.0,43,285.35,61,285.7,57,286.0,55,286.35,47,286.7,37,
287.0,53,287.35,39,287.7,47,288.0,31,288.35,44,288.7,52,289.0,49,289.35,34,289.7,53,290.0,48,290.35,62,290.7,44,
291.0,57,291.35,44,291.7,39,292.0,49,292.35,61,292.7,69,293.0,58,293.35,47,293.7,66,294.0,63,294.35,45,294.7,50,
295.0,36,295.35,54,295.7,50,296.0,47,296.35,39,296.7,29,297.0,46,297.35,32,297.7,40,298.0,35,298.35,48,298.7,56,
299.0,37,299.35,26,299.7,45,300.0,42,300.35,56,300.7,38,301.0,59,301.35,46,301.7,41,302.0,36,302.35,48,302.7,56,
303.0,51,303.35,40,303.7,59,304.0,58,304.35,40,304.7,45,305.0,28,305.35,46,305.7,42,306.0,52,306.35,44,306.7,34,
307.0,52,307.35,38,307.7,46,308.0,37,308.35,50,308.7,58,309.0,46,309.35,35,309.7,54,310.0,51,310.35,38,310.7,44];

// RATAN-600 flux densities: [day offset from MJD 57600, mJy]
const rad46 = [[1,89],[2,154],[2.9,302],[4.7,171],[5.5,140],[7,118],[8,124],[9,180],[10.7,172],[11.5,150],[12.5,118],[14.4,118],[15.5,110],[16.7,116],[18,100],[19,72],[20,85],[21,147],[22,197],[24,27],[25,8.1],[25.8,13],[27,10],[27.8,5],[29,30],[31,124],[32,302],[33,352],[34,383],[34.7,28],[35.7,21],[36.7,12],[37.8,16],[38.7,19.5],[39.8,10],[41.9,14],[43.9,5],[45,10],[45.8,171],[46.8,250],[47.8,4830],[48.9,11800],[50.5,14700],[51.9,12900],[52.8,8100],[53.7,4400],[55.6,1300],[56.7,790],[57.8,570],[58.9,430],[59.6,309],[61.5,248],[62.4,228],[63.3,214],[64,132],[65,132],[65.6,199],[66.7,154],[68,191],[69.5,144],[70.5,120],[71.4,76],[73.2,118],[75.5,111],[76.5,111],[78.7,65],[80.6,83],[82,100],[83.9,95],[85.8,147],[87.6,85],[90.4,104],[92.8,124],[95,111],[97.8,106],[100,95],[101.5,83],[102.9,83],[104.7,111],[105.6,104],[107,100],[110.3,54],[111.7,75],[113,58],[115.4,85],[117.2,93],[118.1,89],[119.5,55],[120.6,39],[121.4,104],[123.5,54],[125.6,54],[128.6,67],[130.9,52],[132.6,44],[133.5,48],[136.7,67],[138.6,48],[140.4,55],[142.3,54],[144.6,44],[146.4,72],[150.1,80],[152.5,75],[155.3,76],[156.1,138],[158.4,100],[160.3,129],[161.7,95],[163.5,46],[164.5,129],[166.3,191],[167.2,132],[169.1,129],[170.9,132],[171.9,180],[173.7,129],[176.1,124],[178.3,129],[180.2,191],[181.6,106],[183.9,100],[186.2,85],[188.1,147],[189.4,40],[191.7,352],[193,147],[194,118],[195.5,17],[196.4,50],[198.3,124],[199.1,100],[200.6,110],[201.5,20],[202.5,36],[203.3,13],[205.2,352],[206.1,770],[207.3,437],[209.2,137],[213,165],[214.2,690],[215,124],[216.3,300],[217.2,130],[219.2,365],[220,50],[221.4,104],[222.3,18],[223.2,75],[224.1,106],[225.6,54],[227.4,118],[228.3,55],[229.2,18],[230.2,17],[231.4,6],[232,30],[233.1,36],[234.4,10],[235.3,22.5],[236.5,16],[237.4,11],[239.3,95],[240.3,40],[241.2,51],[242.5,100],[243.2,30],[244,46],[245.3,33],[245.9,1580],[247.3,4300],[248.1,16400],[249.2,14700],[250.3,12000],[251.4,9800],[253,4300],[254.3,2870],[255.3,2100],[256.2,1580],[257.3,1270],[258.3,1050],[259.5,843],[260.3,600],[261.4,435],[262.5,310],[263.6,214],[264,154],[265,222],[266.4,295],[267.2,180],[269.1,115],[270,166],[271.5,150],[273.5,147],[276,100],[277.8,100],[280.2,104],[282,69],[284.5,67],[286.7,60],[288,50],[289.9,62],[291.4,55],[293,64],[294.4,64],[298.7,95],[300.5,77],[302.8,60],[303.8,69],[305.2,89],[307,83],[308.3,77],[309.7,75]];

const rad82 = [[0.5,55],[1.5,160],[2.9,310],[3.6,125],[4.5,180],[6,75],[7,230],[9,240],[10,190],[11.5,130],[13,150],[14,130],[16,95],[17.5,85],[19,58],[20,62],[21,260],[22,350],[23,60],[23.8,62],[24.8,22],[25.8,14],[27.5,27],[28,17],[29,10],[31,125],[32,560],[33,350],[34.5,68],[35.2,41],[36.5,21],[38,44],[38.7,19],[40.2,37],[42,33],[46,140],[47.8,5900],[48.9,9000],[50.2,13000],[51.5,11000],[52.5,6500],[53.7,3400],[55.5,970],[56.5,650],[57.5,500],[58.9,420],[59.6,290],[60.5,260],[62,200],[63.3,180],[64.5,140],[65.5,210],[66.7,190],[68,230],[69.5,180],[70.5,160],[72.5,110],[74,130],[76.5,120],[77.5,95],[79,70],[80,90],[81.5,120],[82.5,110],[84,140],[86,150],[87.5,130],[88.5,120],[90,160],[91.5,120],[93,110],[94,90],[96,140],[97,115],[99,90],[100,110],[101,75],[103,100],[105,120],[108,105],[110,70],[112,82],[114,130],[116,100],[118,80],[119.5,64],[120.5,50],[122,100],[124,63],[126,58],[128,89],[129.6,86],[131,60],[133,65],[135,75],[137,78],[139,52],[141,58],[143,70],[144.5,65],[146.5,85],[150,90],[153,95],[155.5,170],[156.5,120],[158,130],[160,150],[161,110],[163.3,48],[165,140],[166.5,175],[168,130],[170,165],[172,160],[174,140],[175.5,175],[177,120],[179,150],[181,165],[182.5,110],[184.5,125],[186.5,120],[188,135],[189.2,37],[191.5,410],[192.8,240],[194.5,85],[195.3,55],[196,25],[198,120],[199,140],[200.5,75],[201.3,47],[202.3,25],[203.3,12],[205,420],[206,780],[207,420],[208,180],[212,170],[213,130],[214.2,570],[215.5,120],[216.5,230],[217.5,170],[219,300],[220.5,75],[221.5,90],[222.6,27],[223.5,60],[224.5,40],[226,70],[227.5,120],[229,27],[230.2,17],[231,16],[232,11],[233,35],[234.3,22],[235.2,17],[236.5,25],[237.7,15],[239.5,105],[240.5,50],[241.5,46],[243,55],[244,33],[245.3,45],[246.5,2000],[247.5,4400],[248.3,15000],[249.5,12500],[250.8,10200],[253,4200],[254.3,2600],[255.3,1700],[256.2,1400],[257.3,1150],[258.3,880],[259.5,700],[260.4,560],[261.4,415],[263,330],[264.2,250],[265.5,200],[267,195],[268.7,160],[270.5,175],[272,180],[274,120],[276.5,98],[278.5,100],[280,85],[281.5,100],[283,75],[284.8,45],[286.8,60],[288.5,68],[290,65],[292,55],[293.5,60],[298.5,90],[300.5,95],[302.5,72],[304,100],[305.5,103],[307.5,82],[309.5,88]];

const rad112 = [[0.5,100],[1.5,170],[2.9,310],[3.8,115],[4.7,200],[5.5,200],[7,130],[8,180],[9,270],[10,160],[11.5,125],[12.5,125],[14,210],[15.5,115],[17.5,100],[18.5,80],[19.5,105],[20,85],[21,330],[22,380],[23,138],[24,90],[25,40],[26,44],[27,40],[27.8,24],[29,19],[31,125],[32,760],[33,340],[35,40],[36,42],[37,39],[38,37],[38.8,27],[40,42],[42,25],[45.8,130],[47,1250],[48,6000],[49,11300],[50.5,11800],[51.8,8000],[53,5800],[53.7,3000],[55.5,870],[56.5,640],[57.2,460],[58.5,400],[59.6,190],[60.5,250],[62,155],[63.3,140],[64,120],[65.5,200],[67,170],[68.5,200],[70,220],[71,190],[72,150],[73.5,165],[75,130],[77,110],[79,70],[81,90],[82,100],[83.5,115],[85.5,140],[87,120],[88.5,170],[90,150],[91,130],[92.5,170],[94,100],[96,140],[97.5,160],[99,125],[100,115],[101,118],[103,113],[104.5,110],[106,110],[108,100],[110,80],[111,105],[113,90],[115,110],[116.5,130],[118.5,83],[119.5,75],[120.5,70],[122,100],[123.5,88],[125.5,85],[128,60],[130,70],[132,62],[133.5,75],[136,58],[137,84],[138.6,186],[140,57],[141.5,65],[143,63],[144.6,32],[146.5,70],[149,113],[150.5,105],[152,90],[155.5,190],[156.5,170],[158,110],[159.5,128],[161,130],[162.5,110],[163.5,45],[165,115],[167,160],[168.5,170],[170,180],[171.5,140],[173,180],[174.5,140],[175.5,165],[177,200],[178.5,170],[180,125],[181.5,115],[183,120],[185,100],[187,90],[189,90],[190,75],[191.7,340],[192.8,260],[193.5,170],[194.5,115],[195.5,49],[196.5,45],[197.5,90],[198.3,175],[199.5,110],[200.5,230],[201.5,38],[202.5,35],[203.5,25],[205,380],[206,700],[207,470],[208,250],[209.3,140],[212,160],[214.2,500],[215,120],[216.5,170],[217.5,130],[219.2,420],[220.5,90],[221.5,130],[222.5,45],[223.5,35],[224.5,75],[226,80],[227.5,130],[228.5,42],[229.5,35],[230.5,45],[231.5,38],[232.5,32],[233,40],[233.5,38],[234.5,20],[235.5,28],[236.5,25],[237.5,35],[239.3,178],[240.2,75],[241,80],[242.3,110],[243,53],[244.3,45],[245.3,55],[245.9,1600],[247.3,4200],[248.3,14500],[249.3,12000],[250.5,8500],[251.5,7000],[253,3800],[254,2250],[255,1900],[256,1350],[257.3,1080],[258,820],[259,680],[260,560],[261.2,390],[262.5,300],[264,230],[265.5,235],[266.4,360],[267,340],[268.5,190],[269.5,210],[270.5,170],[272,170],[273.5,130],[275,155],[276.5,120],[278.5,95],[281,87],[282,34],[283,52],[285.5,40],[286.5,60],[288,80],[290,75],[292.5,70],[298.5,105],[300.5,130],[301,50],[303,140],[304.5,170],[305.5,150],[306.5,190],[307.5,165],[308.5,185],[309.7,240]];

// ---------- BUILD ----------
const FONT = '"Liberation Sans", Arial, sans-serif';
const orbitData = [];
[orbitPairs, orbitCore].forEach(arr => {
  for (let i = 0; i < arr.length; i += 2) orbitData.push([MJD0 + arr[i], arr[i + 1] / 1000]);
});
const dayData = dayFlux.map((v, i) => [MJD0 + i, v / 1000]);
const toXY = arr => arr.map(p => [MJD0 + p[0], p[1]]);

const PLUS = 'path://M2.7,0H5.3V2.7H8V5.3H5.3V8H2.7V5.3H0V2.7H2.7Z';
const PLUS_BOLD = 'path://M3.4,0H6.6V3.4H10V6.6H6.6V10H3.4V6.6H0V3.4H3.4Z';
const TICK = {color: '#333', width: 1.5};

function xAx(grid, pos, vals, len, labels) {
  return {type: 'value', gridIndex: grid, position: pos, min: 57600, max: 57911,
    axisLine: {show: false, onZero: false}, splitLine: {show: false},
    axisTick: {show: true, inside: true, length: len, customValues: vals, lineStyle: TICK},
    axisLabel: labels ? {show: true, customValues: xMajor, margin: 8, color: '#111', fontSize: 27, fontFamily: FONT, formatter: v => String(Math.round(v))} : {show: false}};
}
function yAx(grid, pos, type, vals, len, labels, fmt) {
  const o = {type: type, gridIndex: grid, position: pos,
    axisLine: {show: false, onZero: false}, splitLine: {show: false},
    axisTick: {show: true, inside: true, length: len, customValues: vals, lineStyle: TICK},
    axisLabel: labels ? {show: true, customValues: vals, margin: 9, color: '#111', fontSize: 21, fontFamily: FONT, formatter: fmt} : {show: false}};
  if (type === 'log') { o.min = 5; o.max = 25000; o.logBase = 10; } else { o.min = -0.08; o.max = 0.10; }
  return o;
}

const txt = (x, y, text, color, size, opts, align) => Object.assign({type: 'text', x: x, y: y, z: 100,
  style: {text: text, fill: color, font: size + 'px ' + FONT, align: align || 'center', verticalAlign: 'middle'}}, opts || {});
const MAG = '#ff00ff', PUR = '#8a00cc';

const graphics = [
  {type: 'text', x: 63.5, y: 17, z: 100, style: {text: 'I', fill: '#1c1cc8', font: 'bold 46px "Liberation Serif", serif', align: 'center', verticalAlign: 'bottom'}},
  txt(253.5, 71, 'ultra-soft state', MAG, 24.5),
  txt(545, 72, 'hard state', MAG, 24.5),
  txt(904.5, 73, 'ultra-soft state', MAG, 24.5),
  txt(1181, 71, 'Cyg X-3', '#ff0000', 35),
  txt(330.5, 148, '0.2crabs', '#1010ee', 28.5),
  txt(324, 282, 'soft state', MAG, 24, {rotation: 0.76}),
  txt(1050, 280, 'soft state', MAG, 24, {rotation: 0.76}),
  txt(732.5, 317, 'Swift/BAT  15-50 keV', MAG, 33.5),
  txt(1191.5, 318, 'hard state', MAG, 24.5),
  txt(629, 356, 'Orbit', PUR, 27, {}, 'left'),
  txt(629, 386, '1day', PUR, 27, {}, 'left'),
  {type: 'rect', z: 100, shape: {x: 598.5, y: 355, width: 5, height: 1.4}, style: {fill: PUR}},
  {type: 'rect', z: 100, shape: {x: 600.3, y: 353.2, width: 1.4, height: 5}, style: {fill: PUR}},
  {type: 'line', z: 100, shape: {x1: 583, y1: 389, x2: 619, y2: 389}, style: {stroke: MAG, lineWidth: 3}},
  {type: 'circle', z: 100, shape: {cx: 583, cy: 389, r: 3.5}, style: {fill: MAG}},
  {type: 'circle', z: 100, shape: {cx: 619, cy: 389, r: 3.5}, style: {fill: MAG}},
  txt(64, 243, 'X-ray flux, cnts', MAG, 32, {rotation: Math.PI / 2}),
  txt(56, 635, 'Flux density, mJy', '#000', 32, {rotation: Math.PI / 2}),
  txt(696, 884, 'MJD', '#000', 35),
  txt(169, 874, '01/08/16', '#11e011', 28),
  txt(1142, 878, '05/06/17', '#11e011', 28, {}, 'left'),
  txt(633.5, 480, 'RATAN-600', '#ff0000', 34),
  {type: 'line', z: 100, shape: {x1: 541, y1: 516, x2: 576, y2: 516}, style: {stroke: '#000', lineWidth: 1}},
  {type: 'circle', z: 100, shape: {cx: 541, cy: 516, r: 5.5}, style: {fill: '#000'}},
  {type: 'circle', z: 100, shape: {cx: 576, cy: 516, r: 5.5}, style: {fill: '#000'}},
  txt(597, 518, '4.6 GHz', '#000', 29.5, {}, 'left'),
  {type: 'rect', z: 100, shape: {x: 554.5, y: 546.5, width: 9, height: 3}, style: {fill: '#0000ff'}},
  {type: 'rect', z: 100, shape: {x: 557.5, y: 543.5, width: 3, height: 9}, style: {fill: '#0000ff'}},
  txt(597, 549, '8.2 GHz', '#000', 29.5, {}, 'left'),
  {type: 'line', z: 100, shape: {x1: 555.5, y1: 576.5, x2: 562.5, y2: 583.5}, style: {stroke: '#ff0000', lineWidth: 2.6}},
  {type: 'line', z: 100, shape: {x1: 555.5, y1: 583.5, x2: 562.5, y2: 576.5}, style: {stroke: '#ff0000', lineWidth: 2.6}},
  txt(589, 581, '11.2 GHz', '#000', 29.5, {}, 'left'),
  // Fermi/LAT flare 1
  txt(822, 524, 'Fermi/LAT flare', MAG, 25.5, {rotation: Math.PI / 2}),
  {type: 'rect', z: 100, shape: {x: 844.5, y: 485, width: 3, height: 110}, style: {fill: MAG}},
  {type: 'polygon', z: 100, shape: {points: [[837.5, 591], [855.5, 591], [846, 612]]}, style: {fill: MAG}},
  // AGILE
  txt(875.5, 455, 'AGILE flare >100 Mev', PUR, 25, {rotation: Math.PI / 2}),
  {type: 'rect', z: 100, shape: {x: 885, y: 370, width: 9.5, height: 210}, style: {fill: PUR}},
  {type: 'polygon', z: 100, shape: {points: [[878.5, 577], [901, 577], [889.7, 602]]}, style: {fill: PUR}},
  // Fermi/LAT flare 2
  txt(987, 532, 'Fermi/LAT flare', MAG, 25.5, {rotation: Math.PI / 2}),
  {type: 'rect', z: 100, shape: {x: 1011.5, y: 485, width: 3, height: 48}, style: {fill: MAG}},
  {type: 'polygon', z: 100, shape: {points: [[1004.5, 529], [1022.5, 529], [1013, 550]]}, style: {fill: MAG}}
];

const option = {
  animation: false,
  backgroundColor: 'transparent',
  grid: [
    {left: 128, top: 43, width: 1120, height: 399, show: true, borderColor: '#333', borderWidth: 1.5, backgroundColor: 'transparent', outerBoundsMode: 'none', containLabel: false},
    {left: 128, top: 442, width: 1120, height: 390, show: true, borderColor: '#333', borderWidth: 1.5, backgroundColor: 'transparent', outerBoundsMode: 'none', containLabel: false}
  ],
  xAxis: [
    xAx(0, 'bottom', xMajor, 17, false), xAx(0, 'bottom', xMinor, 9, false),
    xAx(0, 'top', xMajor, 17, false), xAx(0, 'top', xMinor, 9, false),
    xAx(1, 'bottom', xMajor, 18, true), xAx(1, 'bottom', xMinor, 9, false),
    xAx(1, 'top', xMajor, 18, false), xAx(1, 'top', xMinor, 10, false)
  ],
  yAxis: [
    yAx(0, 'left', 'value', yTopMajor, 17, true, v => (Math.round(v * 100) / 100).toFixed(2).replace('.', ',')),
    yAx(0, 'left', 'value', yTopMinor, 9, false),
    yAx(0, 'right', 'value', yTopMajor, 10, false),
    yAx(1, 'left', 'log', yBotMajor, 17, true, v => String(Math.round(v))),
    yAx(1, 'left', 'log', yBotMinor, 9, false),
    yAx(1, 'right', 'log', yBotMajor, 10, false)
  ],
  series: [
    {type: 'scatter', name: 'Orbit', xAxisIndex: 0, yAxisIndex: 0, data: orbitData, symbol: PLUS, symbolSize: 6,
      itemStyle: {color: '#8800cc'}, silent: true, z: 2, large: false},
    {type: 'line', name: '1day', xAxisIndex: 0, yAxisIndex: 0, data: dayData, symbol: 'circle', symbolSize: 6, showSymbol: true,
      lineStyle: {color: MAG, width: 3.5}, itemStyle: {color: MAG}, silent: true, z: 3, clip: false,
      markLine: {silent: true, symbol: ['none', 'none'], label: {show: false}, z: 4, precision: 5,
        data: [
          {yAxis: 0, lineStyle: {color: '#111', width: 1.5, type: [10, 6]}},
          {yAxis: crabLevel, lineStyle: {color: '#3344ff', width: 1.5, type: [10, 5]}}
        ]}},
    {type: 'line', name: '4.6 GHz', xAxisIndex: 4, yAxisIndex: 3, data: toXY(rad46), symbol: 'circle', symbolSize: 12,
      lineStyle: {color: '#000', width: 1}, itemStyle: {color: '#000'}, silent: true, z: 3, clip: false,
      markLine: {silent: true, symbol: ['none', 'none'], label: {show: false}, precision: 3,
        data: [{yAxis: radioRef, lineStyle: {color: '#222', width: 1.5, type: [10, 6]}}]}},
    {type: 'scatter', name: '8.2 GHz', xAxisIndex: 4, yAxisIndex: 3, data: toXY(rad82), symbol: PLUS_BOLD, symbolSize: 10,
      itemStyle: {color: '#0000ff'}, silent: true, z: 4},
    {type: 'scatter', name: '11.2 GHz', xAxisIndex: 4, yAxisIndex: 3, data: toXY(rad112), symbol: PLUS_BOLD, symbolSize: 10, symbolRotate: 45,
      itemStyle: {color: '#ff0000'}, silent: true, z: 5}
  ],
  graphic: graphics
};

const chart = echarts.init(document.getElementById('chart'));
chart.setOption(option);
</script>
</body></html>
